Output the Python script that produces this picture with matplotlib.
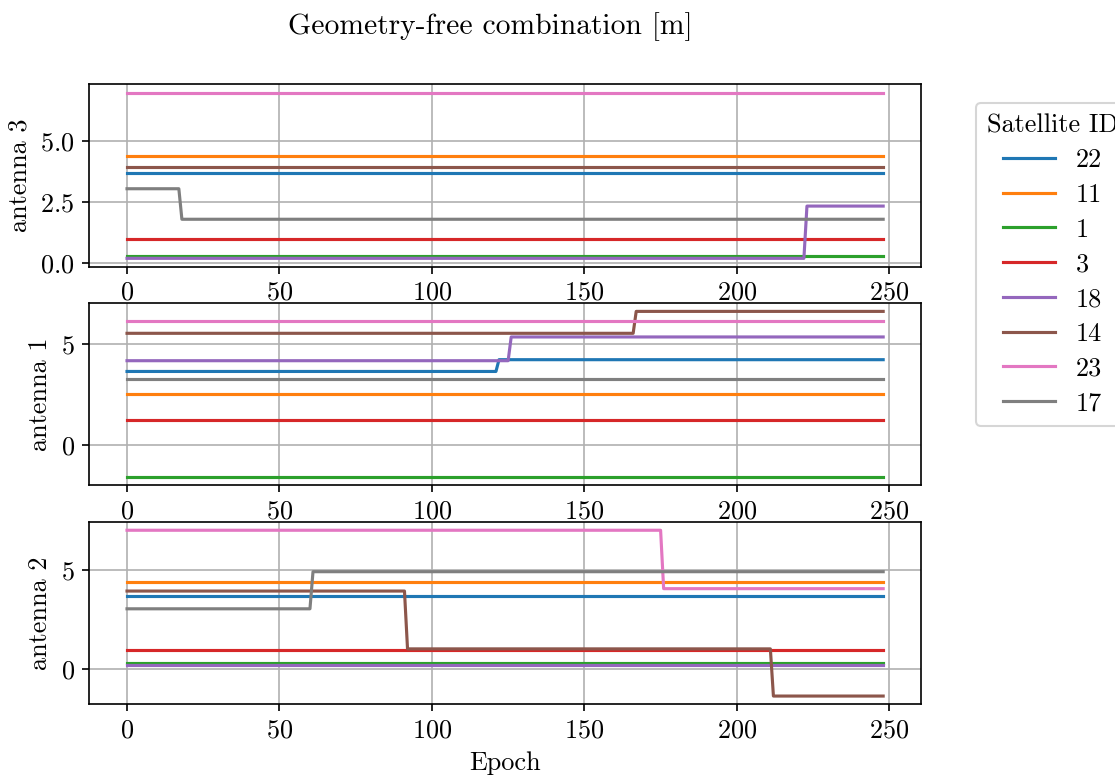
import numpy as np
import matplotlib
matplotlib.use("Agg")
import matplotlib.pyplot as plt

plt.rcParams['font.family'] = 'serif'
plt.rcParams['font.serif'] = ['cmr10']
plt.rcParams['mathtext.fontset'] = 'cm'
plt.rcParams['axes.formatter.use_mathtext'] = True
plt.rcParams['font.size'] = 12.6
plt.rcParams['axes.unicode_minus'] = True

n_epochs = 249
sat_ids = ['22', '11', '1', '3', '18', '14', '23', '17']

# each series: list of (first epoch, value) steps
antenna3 = {
    '22': [(0, 3.70)],
    '11': [(0, 4.39)],
    '1': [(0, 0.30)],
    '3': [(0, 0.97)],
    '18': [(0, 0.19), (223, 2.33)],
    '14': [(0, 3.94)],
    '23': [(0, 6.98)],
    '17': [(0, 3.04), (18, 1.79)],
}
antenna1 = {
    '22': [(0, 3.63), (122, 4.21)],
    '11': [(0, 2.52)],
    '1': [(0, -1.58)],
    '3': [(0, 1.26)],
    '18': [(0, 4.16), (126, 5.33)],
    '14': [(0, 5.51), (167, 6.59)],
    '23': [(0, 6.12)],
    '17': [(0, 3.28)],
}
antenna2 = {
    '22': [(0, 3.71)],
    '11': [(0, 4.42)],
    '1': [(0, 0.30)],
    '3': [(0, 0.98)],
    '18': [(0, 0.20)],
    '14': [(0, 3.95), (92, 1.02), (212, -1.37)],
    '23': [(0, 7.03), (176, 4.07)],
    '17': [(0, 3.05), (61, 4.93)],
}

antennas = [('antenna 3', antenna3), ('antenna 1', antenna1), ('antenna 2', antenna2)]
yticks = [[0, 2.5, 5.0], [0, 5], [0, 5]]


def build(steps):
    y = np.zeros(n_epochs)
    for start, val in steps:
        y[start:] = val
    return y


epochs = np.arange(n_epochs)

fig, axes = plt.subplots(3, 1, figsize=(1115 / 150, 780 / 150), dpi=150)
fig.subplots_adjust(left=0.08, right=0.826, top=0.892, bottom=0.097, hspace=0.2)

for ax, (name, data), yt in zip(axes, antennas, yticks):
    for sid in sat_ids:
        ax.plot(epochs, build(data[sid]), label=sid)
    ax.set_ylabel(name)
    ax.set_yticks(yt)
    ax.set_xticks([0, 50, 100, 150, 200, 250])
    ax.grid(True)

axes[-1].set_xlabel('Epoch')

handles, labels = axes[0].get_legend_handles_labels()
fig.legend(handles, labels, title='Satellite ID', loc='upper left',
           bbox_to_anchor=(963 / 1115, 1 - 90 / 780), labelspacing=0.42)
fig.suptitle('Geometry-free combination [m]', x=0.44, y=0.985, fontsize=14.2)

fig.savefig('out.png', dpi=150)
